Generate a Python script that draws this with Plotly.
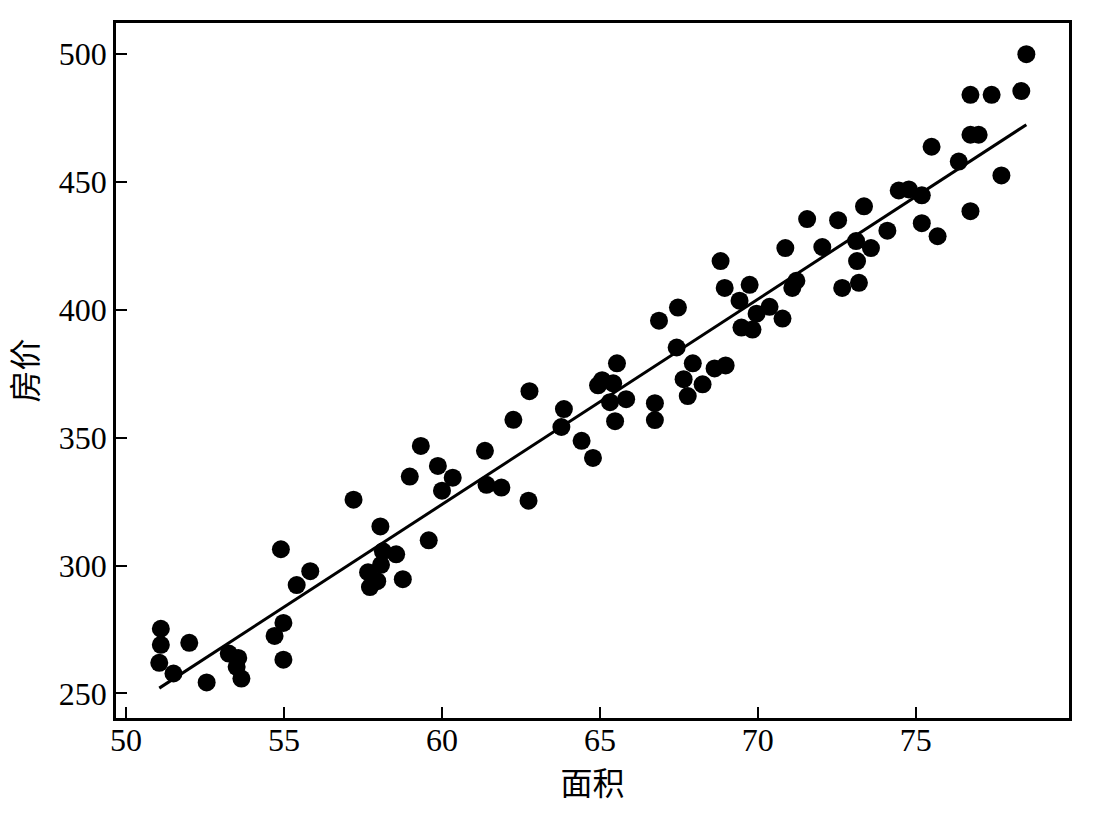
import numpy as np
import plotly.graph_objects as go

# 面积 (area) and 房价 (price)
area = [51.1, 51.1, 51.05, 51.5, 52.0, 52.55, 53.25, 53.55, 53.5, 53.65,
        54.7, 54.98, 54.98, 54.9, 55.4, 55.83, 57.2, 57.66, 57.72, 57.95,
        58.05, 58.13, 58.07, 58.55, 58.76, 58.98, 59.33, 59.58, 59.87, 60.0,
        60.34, 61.36, 61.41, 61.88, 62.26, 62.74, 62.77, 63.78, 63.86, 64.42,
        64.78, 65.07, 64.94, 65.42, 65.54, 65.32, 65.83, 65.48, 66.74, 66.74,
        66.87, 67.47, 67.43, 67.94, 67.65, 67.78, 68.25, 68.63, 68.98, 68.82,
        68.95, 69.42, 69.74, 69.96, 69.48, 69.83, 70.37, 70.78, 70.87, 71.22,
        71.09, 72.04, 72.67, 73.14, 73.2, 73.11, 73.58, 74.1, 71.56, 72.54,
        73.36, 74.46, 74.78, 75.19, 75.19, 75.69, 75.5, 76.36, 76.73, 76.73,
        76.99, 76.73, 77.4, 77.71, 78.34, 78.5]
price = [275.3, 269.0, 262.0, 257.8, 269.8, 254.3, 265.6, 263.9, 260.4, 255.8,
         272.5, 277.6, 263.2, 306.4, 292.4, 297.8, 325.8, 297.4, 291.6, 293.9,
         315.3, 305.6, 300.3, 304.4, 294.7, 334.8, 346.8, 309.9, 339.0, 329.3,
         334.4, 344.9, 331.6, 330.5, 357.0, 325.4, 368.2, 354.2, 361.2, 348.8,
         342.1, 372.5, 370.5, 371.3, 379.1, 363.9, 365.1, 356.5, 363.5, 356.9,
         395.8, 400.9, 385.3, 379.1, 372.9, 366.3, 370.9, 377.1, 378.3, 419.1,
         408.6, 403.6, 409.8, 398.5, 393.1, 392.3, 401.2, 396.6, 424.2, 411.4,
         408.6, 424.6, 408.6, 419.1, 410.6, 426.9, 424.2, 431.0, 435.5, 435.1,
         440.5, 446.7, 447.1, 444.8, 433.9, 428.8, 463.8, 458.0, 438.6, 468.5,
         468.5, 484.1, 484.1, 452.6, 485.6, 500.0]

x_ticks = [50, 55, 60, 65, 70, 75]
y_ticks = [250, 300, 350, 400, 450, 500]

xa = np.array(area)
ya = np.array(price)
slope, intercept = np.polyfit(xa, ya, 1)
line_x = np.array([xa.min(), xa.max()])
line_y = slope * line_x + intercept

fig = go.Figure()
fig.add_trace(go.Scatter(x=area, y=price, mode="markers",
                         marker=dict(color="black", size=18, line=dict(width=0)),
                         showlegend=False))
fig.add_trace(go.Scatter(x=line_x, y=line_y, mode="lines",
                         line=dict(color="black", width=3), showlegend=False))

font_family = "Liberation Serif, Noto Sans CJK SC, serif"
axis_common = dict(showline=True, linecolor="black", linewidth=2.5, mirror=True,
                   ticks="inside", ticklen=11, tickwidth=2, tickcolor="black",
                   showgrid=False, zeroline=False,
                   tickfont=dict(family=font_family, size=32, color="black"))

fig.update_xaxes(range=[49.68, 79.85], tickvals=x_ticks, ticklabelstandoff=-8,
                 title=dict(text="面积", font=dict(family=font_family, size=32, color="black"),
                            standoff=16),
                 **axis_common)
fig.update_yaxes(range=[240.4, 512.2], tickvals=y_ticks, ticklabelstandoff=0,
                 title=dict(text="房价", font=dict(family=font_family, size=32, color="black"),
                            standoff=16),
                 **axis_common)

# the page body has an 8px default margin, so the figure is drawn 8px in
fig.update_layout(width=1092, height=806, plot_bgcolor="white", paper_bgcolor="white",
                  margin=dict(l=108, r=31, t=13, b=96, pad=0))

fig.write_html("out.html")
